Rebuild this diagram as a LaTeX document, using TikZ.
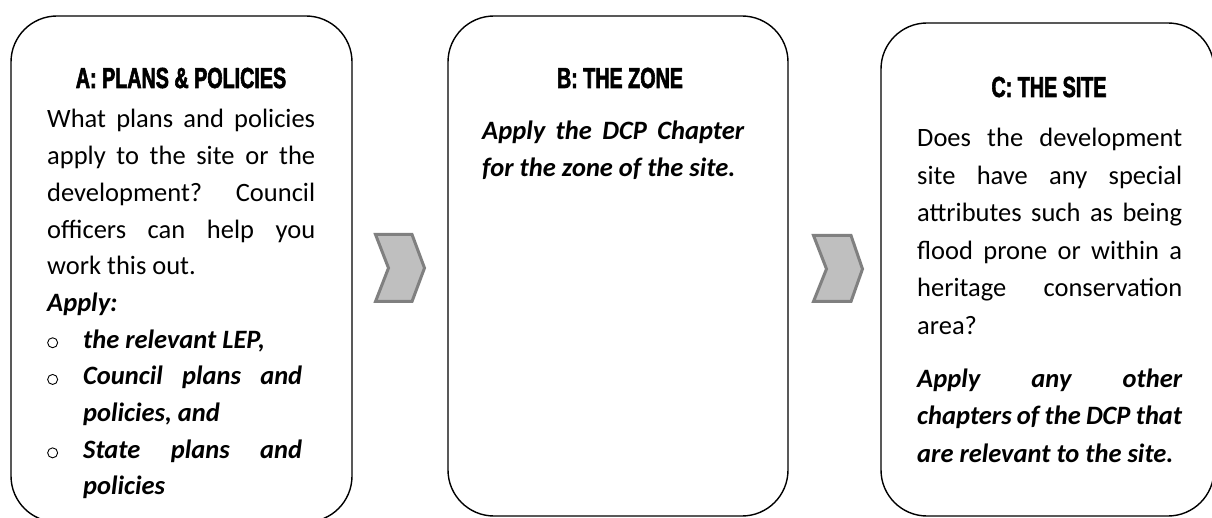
\documentclass[tikz,border=0pt]{standalone}
\usepackage{fontspec}
\setmainfont{Carlito}
\newfontfamily\titlefont[FakeStretch=0.68,FakeBold=2]{Liberation Sans Bold}
\newcommand{\jl}[2]{\makebox[#1][s]{#2}}
\newcommand{\bul}{\makebox[36pt][l]{\tikz[x=1pt,y=1pt]\draw[line width=0.9pt] (5.5,5.2) circle[radius=5];}}
\newcommand{\natsp}{\spaceskip=0pt\xspaceskip=0pt\relax}
\definecolor{chevfill}{HTML}{BFBFBF}
\definecolor{chevline}{HTML}{808080}
\tikzset{
  panel/.style={draw=black, line width=1.4pt, rounded corners=46pt},
  chev/.style={draw=chevline, fill=chevfill, line width=3pt, line join=miter},
  heading/.style={anchor=base, inner sep=0pt, font=\titlefont\fontsize{29pt}{30pt}\selectfont},
  body/.style={anchor=base west, inner sep=0pt, align=left, font=\fontsize{26.5pt}{36.7pt}\selectfont},
  bodyc/.style={body, font=\fontsize{26.5pt}{37.5pt}\selectfont}
}
\begin{document}
\begin{tikzpicture}[x=1pt,y=-1pt]
\useasboundingbox (0,0) rectangle (1212,518);
\fill[white] (0,0) rectangle (1212,518);
\clip (0,0) rectangle (1212,518);
% panels
\draw[panel] (11,16) rectangle (352,522);
\draw[panel] (448,16) rectangle (788,516);
\draw[panel] (881,23) rectangle (1214,516);
% chevrons
\draw[chev] (375.5,234.5) -- (412,234.5) -- (424.5,268) -- (412,301.5) -- (375.5,301.5) -- (388.5,268) -- cycle;
\draw[chev] (813.5,235.5) -- (851,235.5) -- (862.5,269) -- (851,301.5) -- (813.5,301.5) -- (826.5,269) -- cycle;
% titles
\node[heading] (ta) at (181,88) {A: PLANS \& POLICIES};
\node[heading] (tb) at (620,88) {B: THE ZONE};
\node[heading] (tc) at (1049,97) {C: THE SITE};
% box A body
\node[body, text width=268pt] (abody) at (47,128) {\natsp
\jl{268pt}{What plans and policies}\\
\jl{268pt}{apply to the site or the}\\
\jl{268pt}{development?\ \ Council}\\
\jl{268pt}{officers can help you}\\
work this out.\\
{\bfseries\itshape Apply:}\\
\bul{\bfseries\itshape the relevant LEP,}\\
\bul\jl{219pt}{\bfseries\itshape Council plans and}\\
\hspace*{36pt}{\bfseries\itshape policies, and}\\
\bul\jl{219pt}{\bfseries\itshape State plans and}\\
\hspace*{36pt}{\bfseries\itshape policies}};
% box B body
\node[body, text width=262pt] (bbody) at (482,140) {\natsp
\jl{262pt}{\bfseries\itshape Apply the DCP Chapter}\\
{\bfseries\itshape for the zone of the site.}};
% box C body
\node[bodyc, text width=265pt] (cbody) at (917,147) {\natsp
\jl{265pt}{Does the development}\\
\jl{265pt}{site have any special}\\
\jl{265pt}{attributes such as being}\\
\jl{265pt}{flood prone or within a}\\
\jl{265pt}{heritage conservation}\\
area?};
\node[bodyc, text width=265pt] (capply) at (917,387) {\natsp
\jl{265pt}{\bfseries\itshape Apply any other}\\
\jl{265pt}{\bfseries\itshape chapters of the DCP that}\\
{\bfseries\itshape are relevant to the site.}};
\end{tikzpicture}
\end{document}
